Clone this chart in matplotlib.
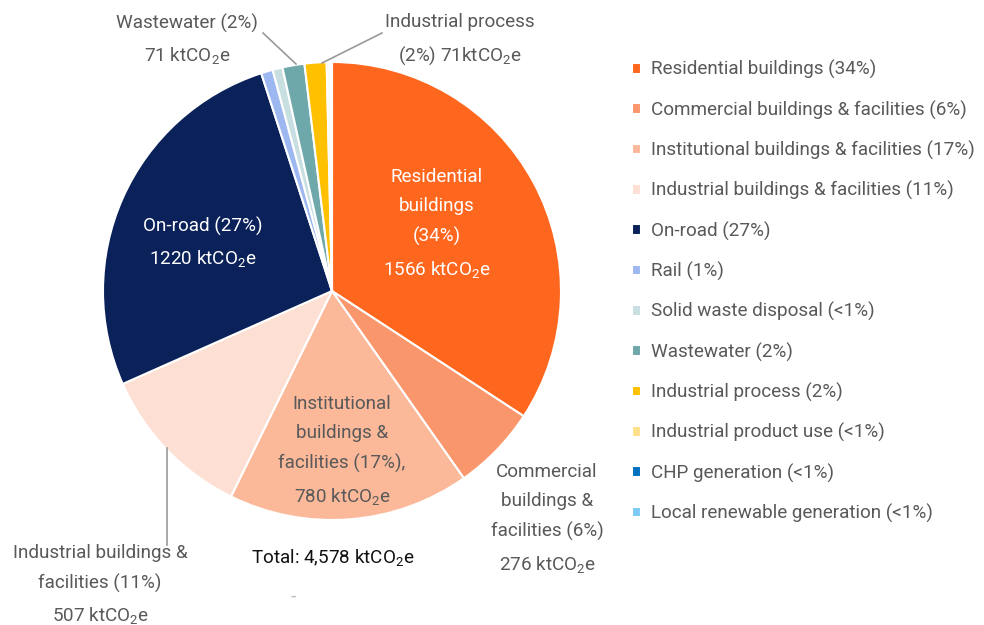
import matplotlib
matplotlib.use("Agg")
import matplotlib.pyplot as plt

plt.rcParams['font.family'] = ['Roboto', 'DejaVu Sans']
plt.rcParams['mathtext.default'] = 'regular'

# emissions by sector, ktCO2e (clockwise from top)
sectors = ["Residential buildings (34%)", "Commercial buildings & facilities (6%)",
           "Institutional buildings & facilities (17%)", "Industrial buildings & facilities (11%)",
           "On-road (27%)", "Rail (1%)", "Solid waste disposal (<1%)", "Wastewater (2%)",
           "Industrial process (2%)", "Industrial product use (<1%)", "CHP generation (<1%)",
           "Local renewable generation (<1%)"]
emissions = [1566, 276, 780, 507, 1220, 38, 32, 71, 71, 8, 4, 5]
colors = ["#FF671F", "#F9966B", "#FBB99A", "#FDE0D3", "#0A2259", "#9DB8F0", "#C8DFE2",
          "#6FA8AA", "#FFC000", "#FFE08A", "#0070C0", "#7DCBF5"]
total_label = "Total: 4,578 ktCO$_2$e"

W, H = 984, 625
cx, cy, r = 332, 291, 229

fig = plt.figure(figsize=(W / 100, H / 100), dpi=100)
ax = fig.add_axes([(cx - r) / W, (H - cy - r) / H, 2 * r / W, 2 * r / H])
wedges, _ = ax.pie(emissions, colors=colors, startangle=90, counterclock=False,
                   wedgeprops=dict(edgecolor="white", linewidth=1.5))
ax.set_xlim(-1, 1)
ax.set_ylim(-1, 1)
ax.set_aspect("equal")
ax.axis("off")


def pos(px, py):
    # pixel position -> pie data coords
    return (px - cx) / r, (cy - py) / r


grey = "#595959"
fs = 13.6
ls = 1.8

def label(px, py, s, color=grey):
    x, y = pos(px, py)
    ax.text(x, y, s, ha="center", va="center", fontsize=fs, color=color,
            linespacing=ls, clip_on=False)

label(437, 224, "Residential\nbuildings\n(34%)\n1566 ktCO$_2$e", "white")
label(203, 243, "On-road (27%)\n1220 ktCO$_2$e", "white")
label(342, 451, "Institutional\nbuildings &\nfacilities (17%),\n780 ktCO$_2$e", grey)
label(547, 519, "Commercial\nbuildings &\nfacilities (6%)\n276 ktCO$_2$e", grey)
label(100, 585, "Industrial buildings &\nfacilities (11%)\n507 ktCO$_2$e", grey)
label(187, 40, "Wastewater (2%)\n71 ktCO$_2$e", grey)
label(460, 40, "Industrial process\n(2%) 71ktCO$_2$e", grey)
label(333, 557, total_label, "#111111")
label(293, 597, "-", "#bbbbbb")

# leader lines
for (x0, y0), (x1, y1) in [((167, 448), (167, 545)), ((263, 33), (296, 64)),
                           ((382, 33), (322, 63))]:
    a, b = pos(x0, y0)
    c, d = pos(x1, y1)
    ax.plot([a, c], [b, d], color="#999999", lw=1.2, clip_on=False)

fig.legend(wedges, sectors, loc="upper left", bbox_to_anchor=(632 / W, 1 - 60 / H),
           frameon=False, fontsize=fs, labelcolor=grey, handlelength=0.5,
           handleheight=0.5, handletextpad=0.5, labelspacing=1.12, borderpad=0,
           borderaxespad=0)

fig.savefig("out.png", dpi=100)
